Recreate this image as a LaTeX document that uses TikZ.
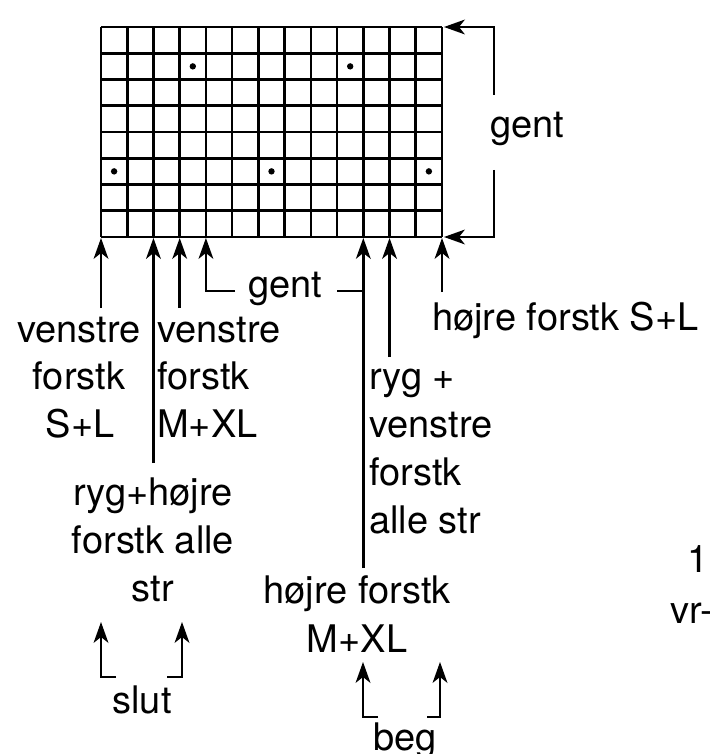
\documentclass[tikz,border=0pt]{standalone}
\usepackage{fontspec}
\setmainfont{TeX Gyre Heros}
\begin{document}
\begin{tikzpicture}[x=1pt,y=-1pt,
  gridline/.style={line width=2.6pt,line cap=square},
  conn/.style={line width=2.6pt},
  arr/.style={conn,shorten >=9pt},
  uptip/.pic={\fill (0,0) -- (-7.5,21) -- (0,15) -- (7.5,21) -- cycle;},
  lefttip/.pic={\fill (0,0) -- (21,-7.5) -- (15,0) -- (21,7.5) -- cycle;},
  lbl/.style={font=\fontsize{38}{46}\selectfont,inner sep=0pt,anchor=base},
  lblw/.style={lbl,anchor=base west},
  dotmark/.style={fill=black}]
\useasboundingbox (0,0) rectangle (709,754);
% grid 13 x 8
\foreach \i in {0,...,13} \draw[gridline] ({101+\i*26.23},27) -- ({101+\i*26.23},237);
\foreach \j in {0,...,8} \draw[gridline] (101,{27+\j*26.25}) -- (442,{27+\j*26.25});
% dots
\foreach \c/\r in {3/1,9/1,0/5,6/5,12/5}
  \fill[dotmark] ({101+(\c+0.5)*26.23},{27+(\r+0.5)*26.25}) circle (3.2);
% grid anchor points
\coordinate (b0) at (101,238);
\coordinate (b2) at ({101+2*26.23},238);
\coordinate (b3) at ({101+3*26.23},238);
\coordinate (b4) at ({101+4*26.23},238);
\coordinate (b10) at ({101+10*26.23},238);
\coordinate (b11) at ({101+11*26.23},238);
\coordinate (b13) at (442,238);
\coordinate (tr) at (444,27);
\coordinate (br) at (444,237);
% labels
\node[lbl] (vs1) at (79,342) {venstre};
\node[lbl] (vs2) at (79,389) {forstk};
\node[lbl] (vs3) at (80,437) {S+L};
\node[lblw] (vm1) at (157,342) {venstre};
\node[lblw] (vm2) at (157,389) {forstk};
\node[lblw] (vm3) at (157,437) {M+XL};
\node[lbl] (gentm) at (285,297) {gent};
\node[lblw] (hsl) at (432,330) {højre forstk S+L};
\node[lblw] (rv1) at (369,389) {ryg +};
\node[lblw] (rv2) at (369,437) {venstre};
\node[lblw] (rv3) at (369,485) {forstk};
\node[lblw] (rv4) at (369,533) {alle str};
\node[lbl] (rh1) at (153,505) {ryg+højre};
\node[lbl] (rh2) at (153,553) {forstk alle};
\node[lbl] (rh3) at (153,601) {str};
\node[lbl] (hm1) at (357,603) {højre forstk};
\node[lbl] (hm2) at (357,652) {M+XL};
\node[lbl] (slut) at (142,713) {slut};
\node[lbl] (beg) at (405,750) {beg};
\node[lbl] (gentr) at (527,138) {gent};
\node[lblw] (p1) at (687,572) {1.};
\node[lblw] (p2) at (670,623) {vr-};
% connector ends
\coordinate (e0) at (101,308);
\coordinate (e2) at ({101+2*26.23},463);
\coordinate (e3) at ({101+3*26.23},308);
\coordinate (e4) at (235,291);
\coordinate (g1) at (337,291);
\coordinate (g2) at ({101+10*26.23},291);
\coordinate (e10) at ({101+10*26.23},568);
\coordinate (e11) at ({101+11*26.23},357);
\coordinate (e13) at (442,292);
\coordinate (rt) at (494,95);
\coordinate (rb) at (494,170);
\coordinate (sl1) at (116,677);
\coordinate (sl1t) at (101,622);
\coordinate (sl2) at (167,677);
\coordinate (sl2t) at (182,622);
\coordinate (bg1) at (378,717);
\coordinate (bg1t) at (363,662);
\coordinate (bg2) at (427,717);
\coordinate (bg2t) at (440,662);
% connectors
\draw[arr] (e0) -- (b0);
\draw[arr] (e2) -- (b2);
\draw[arr] (e3) -- (b3);
\draw[arr] (e4) -| (b4);
\draw[conn] (g1) -- (g2);
\draw[arr] (e10) -- (b10);
\draw[arr] (e11) -- (b11);
\draw[arr] (e13) -- (b13);
\draw[arr] (rt) |- (tr);
\draw[arr] (rb) |- (br);
\draw[arr] (sl1) -| (sl1t);
\draw[arr] (sl2) -| (sl2t);
\draw[arr] (bg1) -| (bg1t);
\draw[arr] (bg2) -| (bg2t);
% arrow heads
\foreach \p in {b0,b2,b3,b4,b10,b11,b13,sl1t,sl2t,bg1t,bg2t}
  \pic at (\p) {uptip};
\foreach \p in {tr,br}
  \pic at (\p) {lefttip};
\end{tikzpicture}
\end{document}
